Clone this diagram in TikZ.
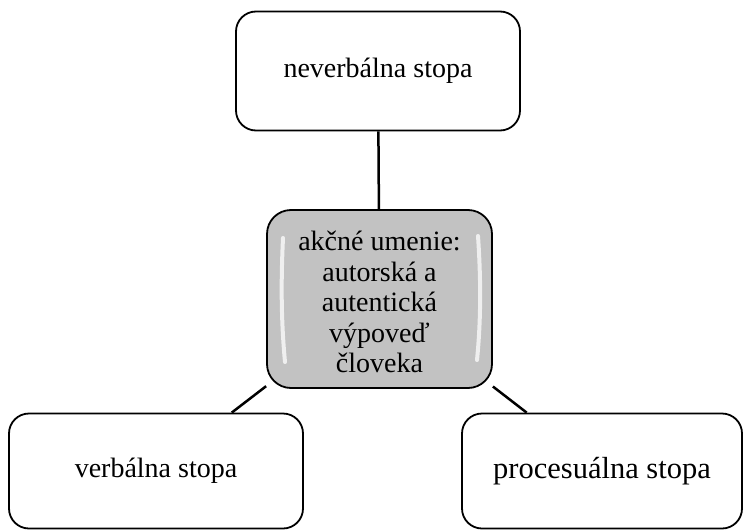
\documentclass[tikz,border=0pt]{standalone}
\usepackage{fontspec}
\setmainfont{Liberation Serif}
\begin{document}
\begin{tikzpicture}[x=1pt,y=-1pt,
  box/.style={draw=black, line width=1.8pt, rounded corners=20pt, fill=white, inner sep=0pt, align=center},
  hub/.style={draw=black, line width=1.8pt, rounded corners=24pt, fill=black!24, inner sep=0pt, align=center},
  link/.style={line width=2.5pt, draw=black},
  glow/.style={draw=white, line width=4pt, line cap=round, opacity=0.75}]
\useasboundingbox (0,0) rectangle (744,530);
\node[box, minimum width=284pt, minimum height=119pt, font=\fontsize{28}{30.5}\selectfont] (top) at (378,71) {neverbálna stopa};
\node[hub, minimum width=225pt, minimum height=178pt] (hub) at (379.5,299) {};
\draw[glow] (283,238) .. controls (281,280) and (281,320) .. (285,362);
\draw[glow] (478,236) .. controls (481,280) and (481,320) .. (477,360);
\node[align=center, font=\fontsize{28}{30.5}\selectfont] (hubtext) at (379.5,302) {akčné umenie:\\autorská a\\autentická\\výpoveď\\človeka};
\node[box, minimum width=294pt, minimum height=115pt, font=\fontsize{28}{30.5}\selectfont] (left) at (156,471) {verbálna stopa};
\node[box, minimum width=280pt, minimum height=115pt, font=\fontsize{30.5}{33}\selectfont] (right) at (602,471) {procesuálna stopa};
\draw[link] (top) -- (hub);
\draw[link] (left) -- (hub);
\draw[link] (right) -- (hub);
\end{tikzpicture}
\end{document}
